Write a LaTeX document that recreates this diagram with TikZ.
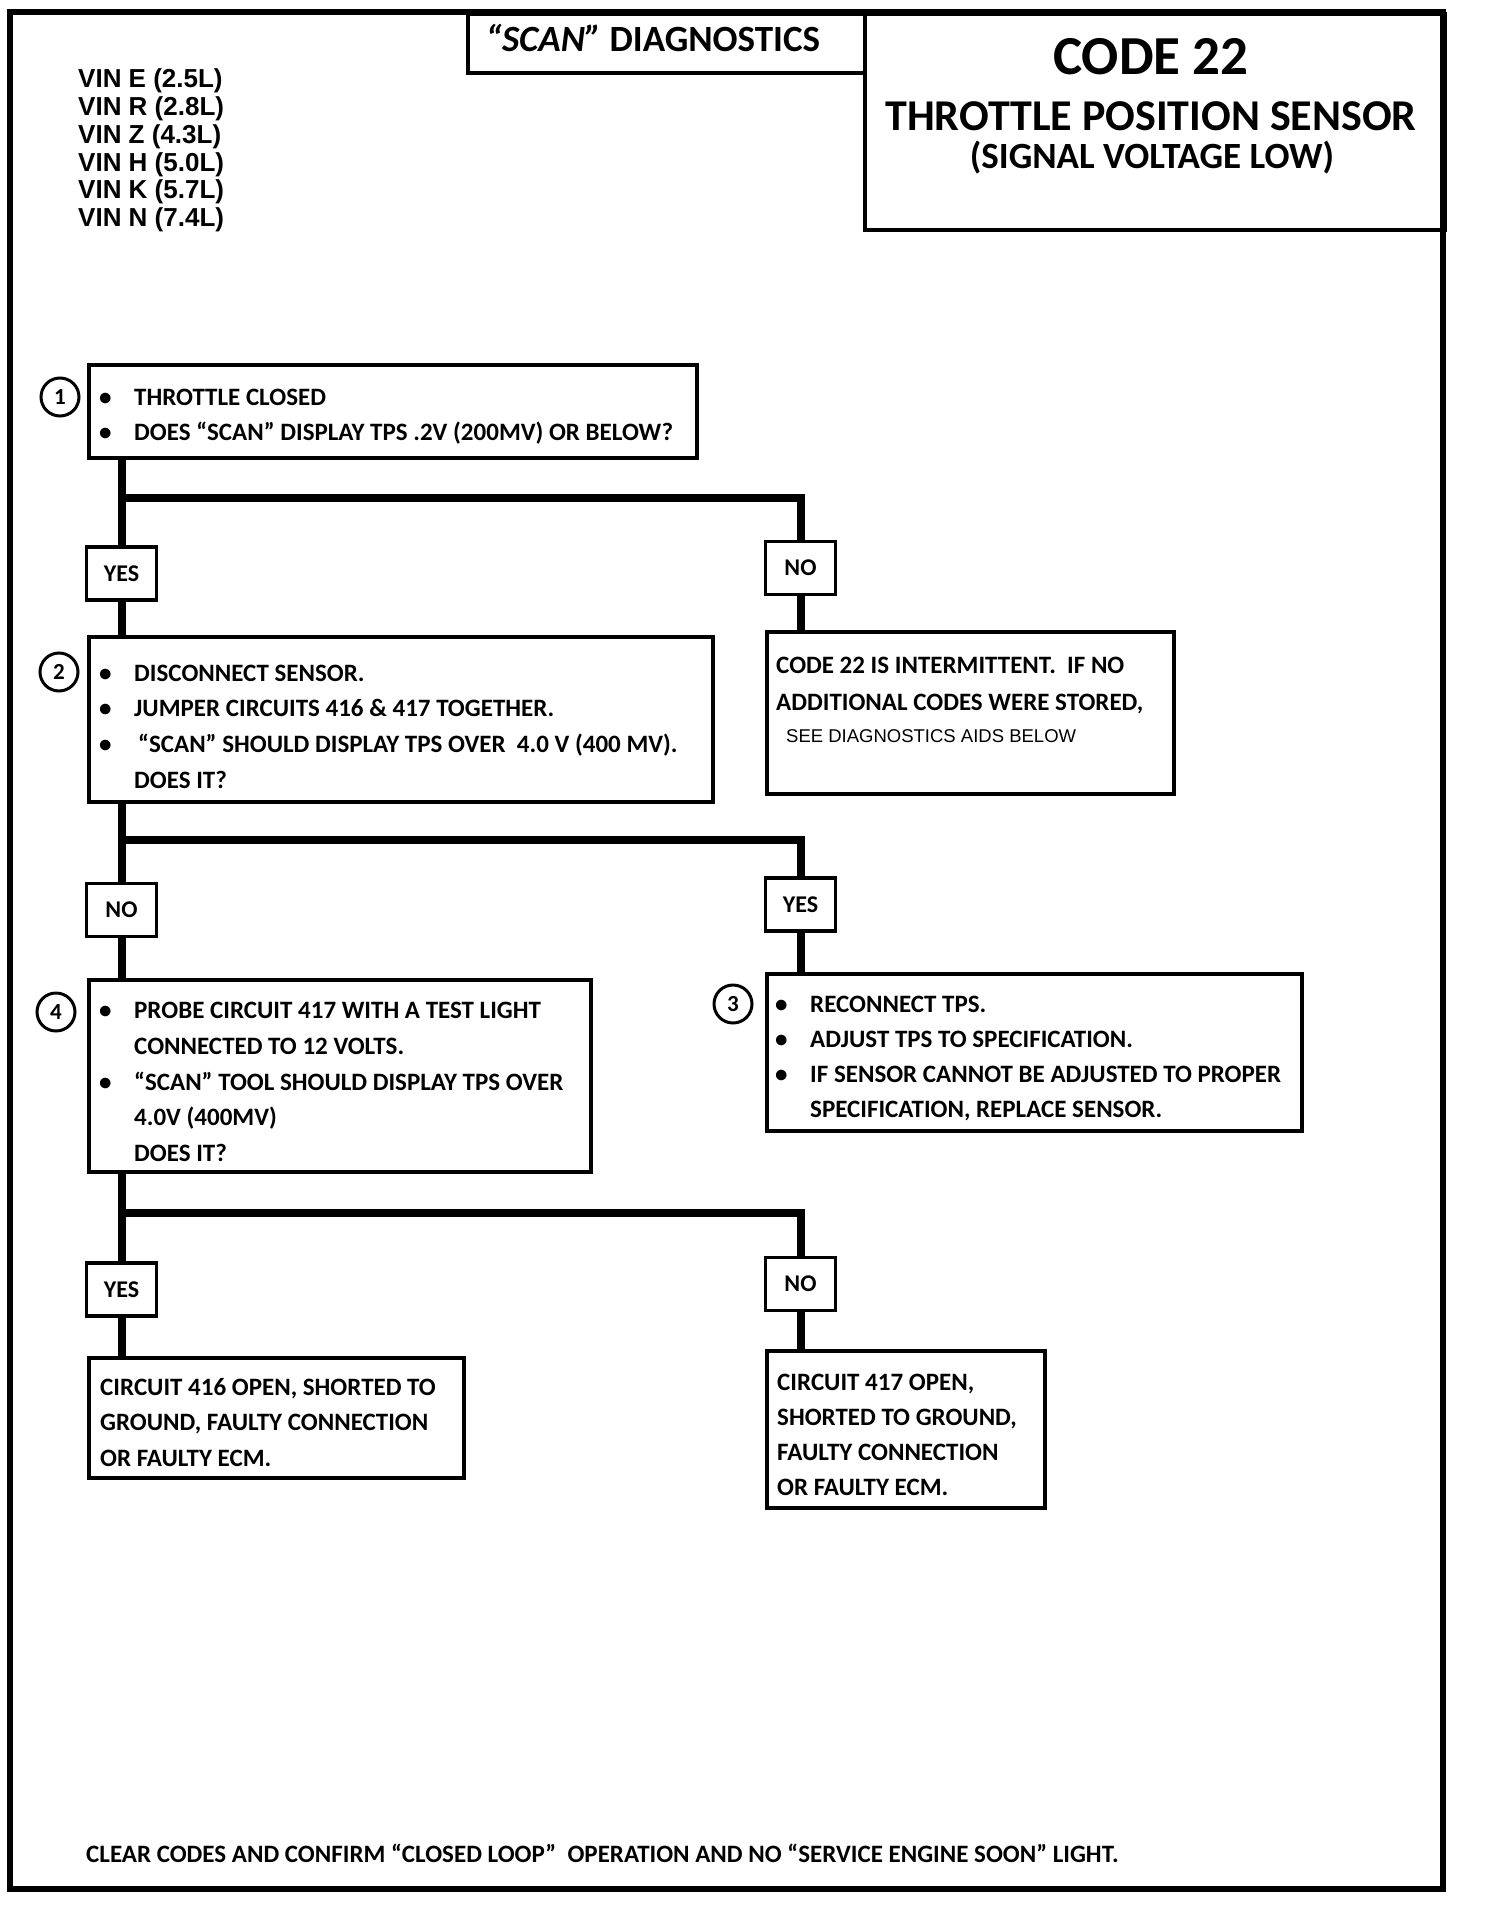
\documentclass[tikz,border=0pt]{standalone}
\usepackage{fontspec}
\setmainfont{Carlito}
\newfontfamily\helv{Liberation Sans}
\newcommand\bul{\makebox[35pt][l]{\textbullet}}
\newcommand\ind{\hspace*{35pt}}
\begin{document}
\begin{tikzpicture}[x=1pt,y=-1pt,
  frame/.style={line width=6.5pt},
  box/.style={draw, line width=3.5pt, rectangle, inner sep=0pt, anchor=north west},
  lab/.style={draw, line width=3.5pt, rectangle, minimum width=70pt, minimum height=53pt, inner sep=0pt, font=\bfseries\fontsize{24}{28}\selectfont},
  conn/.style={line width=8pt},
  num/.style={circle, draw, line width=3pt, minimum size=38pt, inner sep=0pt, font=\bfseries\fontsize{23}{24}\selectfont},
  txt/.style={inner sep=0pt, anchor=north west, align=left, font=\bfseries\fontsize{25}{35.5}\selectfont},
]
\useasboundingbox (0,0) rectangle (1504,1926);
\fill[white] (0,0) rectangle (1504,1926);

% outer frame and header boxes
\draw[frame] (10,12) rectangle (1443,1889);
\node[box, line width=4pt, minimum width=397pt, minimum height=59pt] (scanbox) at (466,12) {};
\node[box, line width=4pt, minimum width=580pt, minimum height=216pt] (codebox) at (863,12) {};
\node[anchor=base, inner sep=0pt, font=\bfseries\fontsize{37}{40}\selectfont] (scan) at (653,52) {\textit{“SCAN”} DIAGNOSTICS};
\node[anchor=base, inner sep=0pt, font=\bfseries\fontsize{55}{60}\selectfont] (code) at (1151,75) {CODE 22};
\node[anchor=base, inner sep=0pt, font=\bfseries\fontsize{44}{48}\selectfont] (tps) at (1151,131) {THROTTLE POSITION SENSOR};
\node[anchor=base, inner sep=0pt, font=\bfseries\fontsize{37}{40}\selectfont] (sig) at (1152,169) {(SIGNAL VOLTAGE LOW)};

% VIN list
\node[inner sep=0pt, anchor=north west, align=left, font=\helv\bfseries\fontsize{26}{27.8}\selectfont] (vin) at (78,68)
  {\strut VIN E (2.5L)\\VIN R (2.8L)\\VIN Z (4.3L)\\VIN H (5.0L)\\VIN K (5.7L)\\VIN N (7.4L)};

% boxes
\node[box, minimum width=608pt, minimum height=93pt] (b1) at (87,363) {};
\node[box, minimum width=624pt, minimum height=165pt] (b2) at (87,635) {};
\node[box, minimum width=407pt, minimum height=162pt] (bI) at (765,630) {};
\node[box, minimum width=502pt, minimum height=192pt] (b4) at (87,978) {};
\node[box, minimum width=535pt, minimum height=157pt] (b3) at (765,972) {};
\node[box, minimum width=375pt, minimum height=120pt] (b416) at (87,1356) {};
\node[box, minimum width=278pt, minimum height=157pt] (b417) at (765,1349) {};

% box texts
\node[txt] (t1) at (99,380.15) {\strut\bul THROTTLE CLOSED\\\bul DOES “SCAN” DISPLAY TPS .2V (200MV) OR BELOW?};
\node[txt, font=\bfseries\fontsize{25}{35.7}\selectfont] (t2) at (99,656) {\strut\bul DISCONNECT SENSOR.\\\bul JUMPER CIRCUITS 416 \& 417 TOGETHER.\\\bul\hspace{4pt}“SCAN” SHOULD DISPLAY TPS OVER\ \ 4.0 V (400 MV).\\\ind DOES IT?};
\node[txt, font=\bfseries\fontsize{25}{37}\selectfont] (tI) at (776,647.1) {\strut CODE 22 IS INTERMITTENT.\ \ IF NO\\ADDITIONAL CODES WERE STORED,};
\node[inner sep=0pt, anchor=base west, font=\helv\fontsize{18.5}{22}\selectfont] (tI2) at (786,742) {SEE DIAGNOSTICS AIDS BELOW};
\node[txt, font=\bfseries\fontsize{25}{35.8}\selectfont] (t4) at (99,993.15) {\strut\bul PROBE CIRCUIT 417 WITH A TEST LIGHT\\\ind CONNECTED TO 12 VOLTS.\\\bul “SCAN” TOOL SHOULD DISPLAY TPS OVER\\\ind 4.0V (400MV)\\\ind DOES IT?};
\node[txt, font=\bfseries\fontsize{25}{35}\selectfont] (t3) at (775,988.15) {\strut\bul RECONNECT TPS.\\\bul ADJUST TPS TO SPECIFICATION.\\\bul IF SENSOR CANNOT BE ADJUSTED TO PROPER\\\ind SPECIFICATION, REPLACE SENSOR.};
\node[txt] (t416) at (100,1370.15) {\strut CIRCUIT 416 OPEN, SHORTED TO\\GROUND, FAULTY CONNECTION\\OR FAULTY ECM.};
\node[txt, font=\bfseries\fontsize{25}{35.3}\selectfont] (t417) at (777,1365.15) {\strut CIRCUIT 417 OPEN,\\SHORTED TO GROUND,\\FAULTY CONNECTION\\OR FAULTY ECM.};

% step numbers
\node[num] (c1) at (60,397) {1};
\node[num] (c2) at (59,672) {2};
\node[num] (c4) at (56,1012) {4};
\node[num] (c3) at (733,1004) {3};

% answer labels
\node[lab] (y1) at (121.5,573.5) {YES};
\node[lab] (n1) at (800.5,568) {NO};
\node[lab] (n2) at (121.5,910) {NO};
\node[lab] (y2) at (800.5,904.5) {YES};
\node[lab] (y3) at (121.5,1289.5) {YES};
\node[lab] (n3) at (800.5,1284) {NO};

% junctions
\coordinate (j1) at (121.5,498);
\coordinate (j2) at (121.5,840);
\coordinate (j3) at (121.5,1213);

% connectors
\draw[conn] (y1.north |- b1.south) -- (y1.north);
\draw[conn] (j1) -| (n1.north);
\draw[conn] (y1.south) -- (y1.south |- b2.north);
\draw[conn] (n1.south) -- (n1.south |- bI.north);
\draw[conn] (n2.north |- b2.south) -- (n2.north);
\draw[conn] (j2) -| (y2.north);
\draw[conn] (n2.south) -- (n2.south |- b4.north);
\draw[conn] (y2.south) -- (y2.south |- b3.north);
\draw[conn] (y3.north |- b4.south) -- (y3.north);
\draw[conn] (j3) -| (n3.north);
\draw[conn] (y3.south) -- (y3.south |- b416.north);
\draw[conn] (n3.south) -- (n3.south |- b417.north);

% footer
\node[inner sep=0pt, anchor=base west, font=\bfseries\fontsize{25}{30}\selectfont] (foot) at (86,1862)
  {CLEAR CODES AND CONFIRM “CLOSED LOOP”\ \ OPERATION AND NO “SERVICE ENGINE SOON” LIGHT.};
\end{tikzpicture}
\end{document}
